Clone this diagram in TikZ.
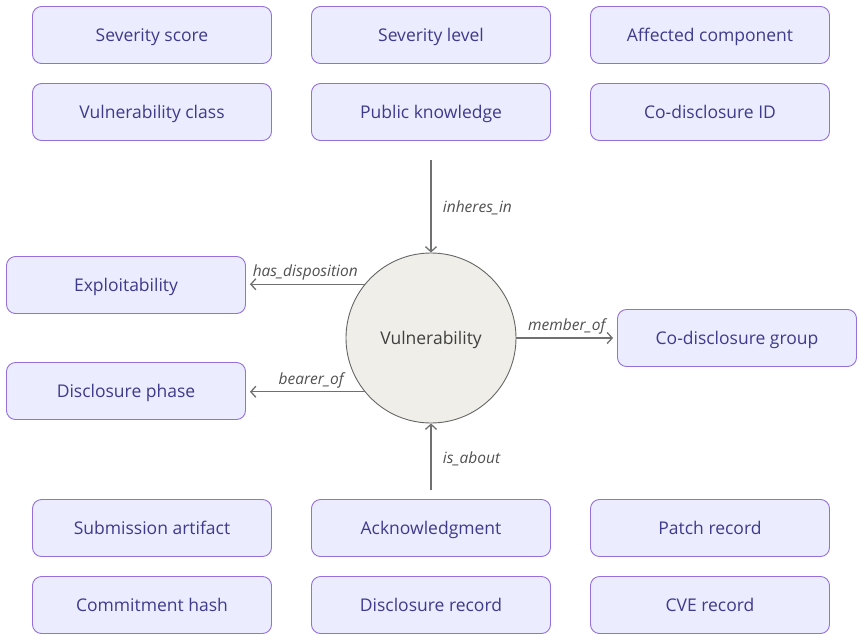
\documentclass[tikz,border=0pt]{standalone}
\usepackage{fontspec}
\setmainfont{Open Sans}
\usetikzlibrary{arrows.meta}
\definecolor{boxFill}{HTML}{ECECFF}
\definecolor{boxLine}{HTML}{9370DB}
\definecolor{boxText}{HTML}{3E3A8C}
\definecolor{hubFill}{HTML}{F0EEE8}
\definecolor{hubLine}{HTML}{666666}
\definecolor{edgeGray}{HTML}{707070}
\definecolor{labGray}{HTML}{505050}

\tikzset{
  entity/.style={draw=boxLine, fill=boxFill, text=boxText, rounded corners=9pt,
    minimum width=239pt, minimum height=57pt, line width=0.9pt,
    text height=13pt, text depth=1pt,
    font=\fontsize{17.5}{20}\selectfont},
  hub/.style={circle, draw=hubLine, fill=hubFill, text=black!75,
    minimum size=170pt, line width=0.9pt, text height=13pt, text depth=1pt,
    font=\fontsize{17.5}{20}\selectfont},
  rel/.style={draw=edgeGray, line width=1.3pt,
    -{Straight Barb[length=5pt, width=11pt]}},
  rellab/.style={font=\fontsize{15.5}{18}\selectfont\itshape, text=labGray}
}

\begin{document}
\begin{tikzpicture}[x=1pt, y=-1pt]
  \useasboundingbox (0,0) rectangle (863,643);

  % Attribute boxes above and below the hub
  \foreach \x/\y/\nm/\lab in {152/35/sevscore/Severity score, 431/35/sevlevel/Severity level,
      710/35/affcomp/Affected component, 152/112/vclass/Vulnerability class,
      431/112/pubknow/Public knowledge, 710/112/coid/Co-disclosure ID,
      152/528/subart/Submission artifact, 431/528/ack/Acknowledgment,
      710/528/patch/Patch record, 152/605/commit/Commitment hash,
      431/605/discrec/Disclosure record, 710/605/cve/CVE record}{
    \node[entity] (\nm) at (\x,\y) {\lab};
  }

  % Boxes beside the hub
  \node[entity] (expl) at (126,285) {Exploitability};
  \node[entity] (phase) at (126,391) {Disclosure phase};
  \node[entity] (cogroup) at (737,338) {Co-disclosure group};

  \node[hub] (vuln) at (431,338) {Vulnerability};

  \coordinate (inTop) at (431,160);
  \coordinate (aboutBot) at (431,490);

  % Relations
  \draw[rel] (inTop) -- (vuln.north)
    node[rellab, midway, right=8pt, yshift=-2pt] {inheres\_in};
  \draw[rel] (aboutBot) -- (vuln.south)
    node[rellab, midway, right=8pt, yshift=-2pt] {is\_about};
  \draw[rel, shorten >=4pt] (vuln.141) -- (vuln.141 -| expl.east)
    node[rellab, midway, above=0pt] {has\_disposition};
  \draw[rel, shorten >=4pt] (vuln.219) -- (vuln.219 -| phase.east)
    node[rellab, pos=0.45, above=0pt] {bearer\_of};
  \draw[rel, shorten >=4pt] (vuln.east) -- (cogroup.west)
    node[rellab, midway, above=0pt] {member\_of};

\end{tikzpicture}
\end{document}
